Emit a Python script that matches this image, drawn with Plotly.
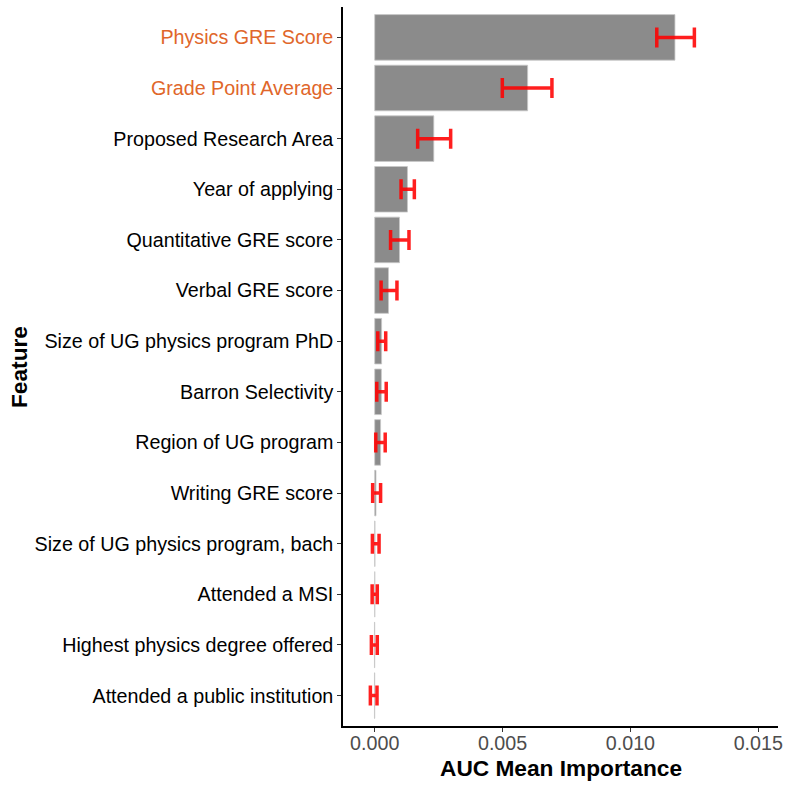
import plotly.graph_objects as go

features = ['Physics GRE Score', 'Grade Point Average', 'Proposed Research Area',
            'Year of applying', 'Quantitative GRE score', 'Verbal GRE score',
            'Size of UG physics program PhD', 'Barron Selectivity', 'Region of UG program',
            'Writing GRE score', 'Size of UG physics program, bach', 'Attended a MSI',
            'Highest physics degree offered', 'Attended a public institution']
importance = [0.01174, 0.00598, 0.00231, 0.00128, 0.00097, 0.00054,
              0.00027, 0.00026, 0.00023, 0.00005, 0.00001, 0.0, -0.00001, -0.00001]
err_low = [0.01103, 0.00499, 0.00168, 0.00103, 0.00062, 0.00025,
           0.00012, 0.00008, 0.00004, -0.00008, -0.00009, -0.00010, -0.00013, -0.00017]
err_high = [0.01250, 0.00693, 0.00297, 0.00155, 0.00134, 0.00087,
            0.00043, 0.00045, 0.00041, 0.00023, 0.00017, 0.00010, 0.00010, 0.00009]
highlight = ['Physics GRE Score', 'Grade Point Average']
xticks = [0.0, 0.005, 0.010, 0.015]

plus = [h - m for h, m in zip(err_high, importance)]
minus = [m - l for l, m in zip(err_low, importance)]

ticktext = ['<span style="color:#E0662A">%s</span>' % f if f in highlight else f
            for f in features]

fig = go.Figure()
fig.add_trace(go.Bar(
    x=importance, y=features, orientation='h', width=0.9,
    marker=dict(color='#8B8B8B', line=dict(color='#C8C8C8', width=0.8)),
    error_x=dict(type='data', symmetric=False, array=plus, arrayminus=minus,
                 color='rgba(255,0,0,0.88)', thickness=3.5, width=10),
    showlegend=False,
))

fig.update_layout(
    width=789, height=789,
    margin=dict(l=343, r=6, t=7, b=63),
    plot_bgcolor='white', paper_bgcolor='white',
    font=dict(family='Liberation Sans, Arial, sans-serif', size=19.7, color='black'),
    xaxis=dict(range=[-0.00124, 0.01577], tickvals=xticks,
               ticktext=['%.3f' % v for v in xticks],
               tickfont=dict(size=19.7, color='#4D4D4D'), ticklabelstandoff=-5,
               showgrid=False, zeroline=False, showline=True, linecolor='black',
               linewidth=1.5, ticks='outside', ticklen=4, tickcolor='#333333'),
    yaxis=dict(categoryorder='array', categoryarray=features, range=[13.6, -0.6],
               tickvals=features, ticktext=ticktext,
               tickfont=dict(size=19.7, color='black'),
               showgrid=False, zeroline=False, showline=True, linecolor='black',
               linewidth=1.5, ticks='outside', ticklen=4, tickcolor='#333333'),
    annotations=[
        dict(text='<b>AUC Mean Importance</b>', xref='paper', yref='paper',
             x=0.5, y=-0.0376, xanchor='center', yanchor='top', showarrow=False,
             font=dict(size=22.7, color='black')),
        dict(text='<b>Feature</b>', xref='paper', yref='paper', textangle=-90,
             x=-0.746, y=0.5, xanchor='center', yanchor='middle', showarrow=False,
             font=dict(size=22.7, color='black')),
    ],
)

# drop the default page margin so the 789px figure fills the window exactly
fig.write_html('out.html', config={'displayModeBar': False},
               post_script="document.body.style.margin='0px';")
